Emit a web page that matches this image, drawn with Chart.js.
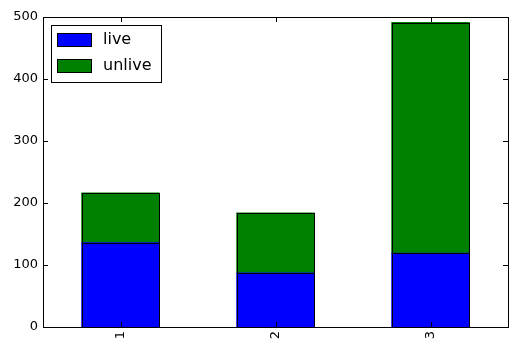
<!DOCTYPE html>
<html>
<head>
<meta charset="utf-8">
<script src="https://cdn.jsdelivr.net/npm/chart.js@4/dist/chart.umd.min.js"></script>
<style>
html,body{margin:0;padding:0;background:#fff;}
#wrap{width:517px;height:351px;}
</style>
</head>
<body>
<div id="wrap"><canvas id="c" width="517" height="351"></canvas></div>
<script>
const categories = ['1', '2', '3'];
const live = [136, 87, 119];
const unlive = [80, 97, 372];
const yTicks = [0, 100, 200, 300, 400, 500];

const FONT = 'DejaVu Sans';

const framePlugin = {
  id: 'frame',
  afterDatasetsDraw(chart) {
    const ctx = chart.ctx;
    const a = chart.chartArea;
    const xs = chart.scales.x, ys = chart.scales.y;
    ctx.save();
    ctx.strokeStyle = '#000';
    ctx.lineWidth = 1;
    // bar edges
    chart.data.datasets.forEach((ds, di) => {
      chart.getDatasetMeta(di).data.forEach(bar => {
        const p = bar.getProps(['x', 'y', 'base', 'width'], true);
        const x0 = Math.round(p.x - p.width / 2) + 0.5;
        const x1 = Math.round(p.x + p.width / 2) + 0.5;
        const y0 = Math.round(Math.min(p.y, p.base)) + 0.5;
        const y1 = Math.round(Math.max(p.y, p.base)) + 0.5;
        ctx.strokeRect(x0, y0, x1 - x0, y1 - y0);
      });
    });
    ctx.beginPath();
    // inward ticks
    yTicks.forEach(v => {
      const py = Math.round(ys.getPixelForValue(v)) + 0.5;
      ctx.moveTo(a.left, py); ctx.lineTo(a.left + 5, py);
      ctx.moveTo(a.right, py); ctx.lineTo(a.right - 5, py);
    });
    categories.forEach((c, i) => {
      const px = Math.round(xs.getPixelForValue(i)) + 0.5;
      ctx.moveTo(px, a.bottom); ctx.lineTo(px, a.bottom - 5);
      ctx.moveTo(px, a.top); ctx.lineTo(px, a.top + 5);
    });
    ctx.stroke();
    ctx.strokeRect(Math.round(a.left) + 0.5, Math.round(a.top) + 0.5,
                   Math.round(a.right - a.left), Math.round(a.bottom - a.top));
    // legend
    const lx = 51, ly = 25, lw = 110, lh = 57;
    ctx.fillStyle = '#fff';
    ctx.fillRect(lx, ly, lw, lh);
    ctx.strokeRect(lx + 0.5, ly + 0.5, lw, lh);
    ctx.font = '16px "' + FONT + '"';
    ctx.textBaseline = 'middle';
    chart.data.datasets.forEach((ds, i) => {
      const cy = 40 + i * 26;
      ctx.fillStyle = ds.backgroundColor;
      ctx.fillRect(57.5, cy - 6.5, 34, 13);
      ctx.strokeRect(57.5, cy - 6.5, 34, 13);
      ctx.fillStyle = '#000';
      ctx.fillText(ds.label, 103, cy);
    });
    ctx.restore();
  }
};

new Chart(document.getElementById('c'), {
  type: 'bar',
  data: {
    labels: categories,
    datasets: [
      { label: 'live', data: live, backgroundColor: '#0000ff', borderWidth: 0, inflateAmount: 0.5 },
      { label: 'unlive', data: unlive, backgroundColor: '#008000', borderWidth: 0, inflateAmount: 0.5 }
    ]
  },
  options: {
    responsive: false,
    animation: false,
    devicePixelRatio: 1,
    layout: { padding: { left: 0, right: 9, top: 17, bottom: 0 } },
    plugins: { legend: { display: false }, tooltip: { enabled: false } },
    datasets: { bar: { barPercentage: 0.5, categoryPercentage: 1.0 } },
    scales: {
      x: {
        stacked: true,
        offset: true,
        grid: { display: false, drawTicks: false },
        border: { display: false },
        ticks: { color: '#000', font: { family: FONT, size: 13 }, minRotation: 90, maxRotation: 90, padding: 4 },
        afterFit(s) { s.height = 24; }
      },
      y: {
        stacked: true,
        min: 0, max: 500,
        grid: { display: false, drawTicks: false },
        border: { display: false },
        ticks: { color: '#000', font: { family: FONT, size: 13 }, stepSize: 100, padding: 5 },
        afterFit(s) { s.width = 43; }
      }
    }
  },
  plugins: [framePlugin]
});
</script>
</body>
</html>
